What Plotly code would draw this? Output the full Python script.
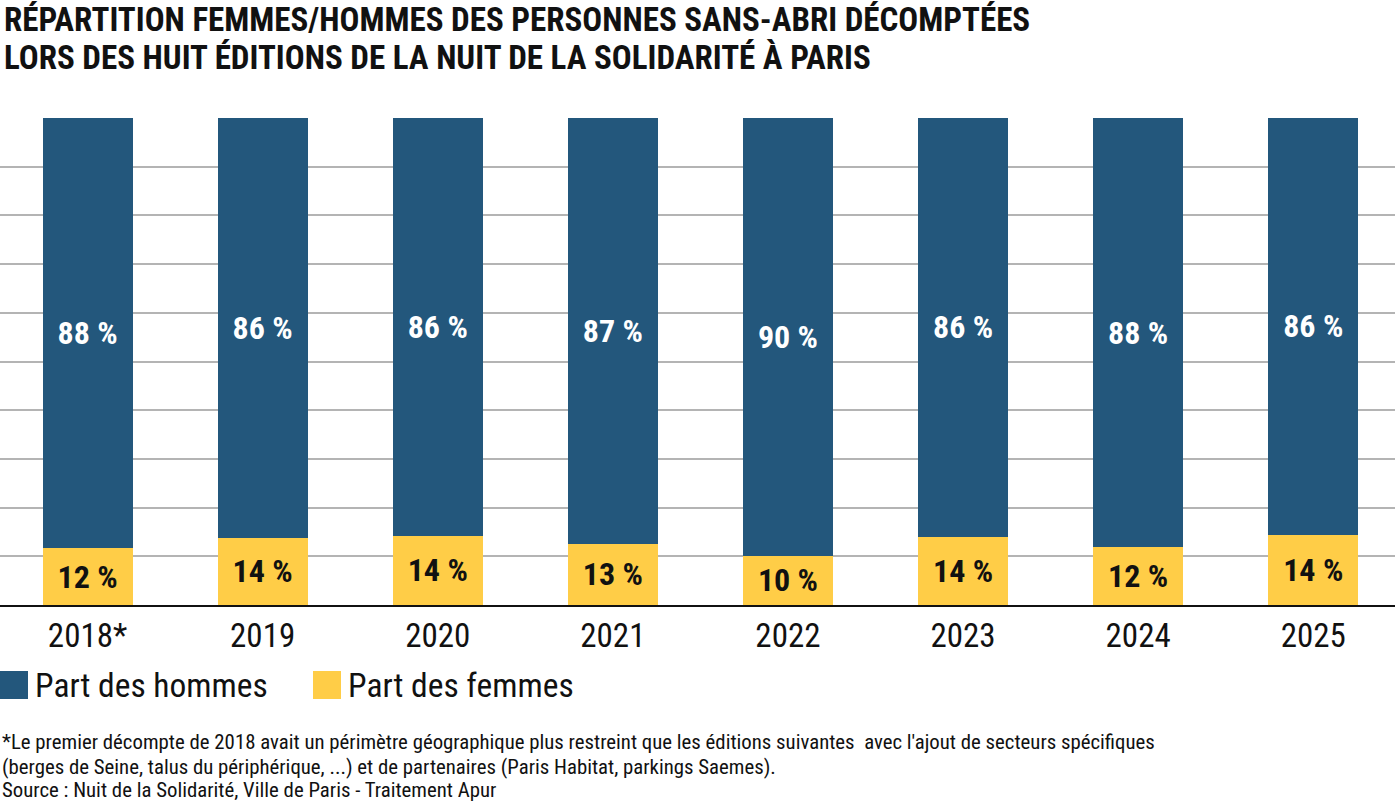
import plotly.graph_objects as go

annees = ["2018*", "2019", "2020", "2021", "2022", "2023", "2024", "2025"]
part_hommes = [88.3, 86.2, 85.8, 87.4, 89.9, 86.0, 88.1, 85.6]
part_femmes = [11.7, 13.8, 14.2, 12.6, 10.1, 14.0, 11.9, 14.4]

titre = ["RÉPARTITION FEMMES/HOMMES DES PERSONNES SANS-ABRI DÉCOMPTÉES",
         "LORS DES HUIT ÉDITIONS DE LA NUIT DE LA SOLIDARITÉ À PARIS"]
notes = [
    "*Le premier décompte de 2018 avait un périmètre géographique plus restreint que les éditions suivantes  avec l'ajout de secteurs spécifiques",
    "(berges de Seine, talus du périphérique, ...) et de partenaires (Paris Habitat, parkings Saemes).",
    "Source : Nuit de la Solidarité, Ville de Paris - Traitement Apur",
]

FONT = "Roboto Condensed, DejaVu Sans Condensed, Roboto, sans-serif"
BLEU = "#23577C"
JAUNE = "#FFCD47"

fig = go.Figure()
fig.add_trace(go.Bar(
    x=list(range(len(annees))), y=part_femmes, name="Part des femmes",
    marker=dict(color=JAUNE, line=dict(width=0)),
    texttemplate="<b>%{y:.0f} %</b>", textposition="inside",
    insidetextanchor="middle",
    textfont=dict(family=FONT, size=32, color="#111111"),
))
fig.add_trace(go.Bar(
    x=list(range(len(annees))), y=part_hommes, name="Part des hommes",
    marker=dict(color=BLEU, line=dict(width=0)),
    texttemplate="<b>%{y:.0f} %</b>", textposition="inside",
    insidetextanchor="middle",
    textfont=dict(family=FONT, size=32, color="#FFFFFF"),
))

H, T, B = 809, 118, 204
ph = H - T - B
def py(pix):
    return (H - B - pix) / ph

annotations = []
for t, yy in zip(titre, [19, 58]):
    annotations.append(dict(text="<b>" + t + "</b>", x=0.0015, y=py(yy), xref="paper", yref="paper",
                            xanchor="left", yanchor="middle", showarrow=False,
                            font=dict(family=FONT, size=33, color="#111111")))
annotations += [
    dict(text="Part des hommes", x=33 / 1395, y=py(685), xref="paper", yref="paper",
         xanchor="left", yanchor="middle", showarrow=False,
         font=dict(family=FONT, size=33.5, color="#111111")),
    dict(text="Part des femmes", x=346 / 1395, y=py(685), xref="paper", yref="paper",
         xanchor="left", yanchor="middle", showarrow=False,
         font=dict(family=FONT, size=33.5, color="#111111")),
]
for t, yy in zip(notes, [742, 767, 790]):
    annotations.append(dict(text=t, x=0.0, y=py(yy), xref="paper", yref="paper",
                            xanchor="left", yanchor="middle", showarrow=False,
                            font=dict(family=FONT, size=20.8, color="#111111")))

shapes = [
    dict(type="rect", xref="paper", yref="paper", x0=0, x1=28 / 1395,
         y0=py(699), y1=py(671), fillcolor=BLEU, line=dict(width=0)),
    dict(type="rect", xref="paper", yref="paper", x0=313 / 1395, x1=341 / 1395,
         y0=py(699), y1=py(671), fillcolor=JAUNE, line=dict(width=0)),
]

fig.update_layout(
    width=1395, height=809,
    barmode="stack", bargap=0.486,
    plot_bgcolor="white", paper_bgcolor="white",
    margin=dict(l=0, r=0, t=T, b=B),
    showlegend=False,
    font=dict(family=FONT),
    annotations=annotations, shapes=shapes,
    uniformtext=dict(mode=False),
)
fig.update_xaxes(showline=True, linecolor="#111111", linewidth=2,
                 tickmode="array", tickvals=list(range(len(annees))), ticktext=annees,
                 range=[-0.5, 7.467],
                 tickfont=dict(family=FONT, size=33, color="#111111"),
                 ticks="", showgrid=False, zeroline=False)
fig.update_yaxes(range=[0, 100], dtick=10, showgrid=True, gridcolor="#B4B4B4",
                 gridwidth=2, showticklabels=False, zeroline=False, ticks="")

fig.write_html("out.html")
